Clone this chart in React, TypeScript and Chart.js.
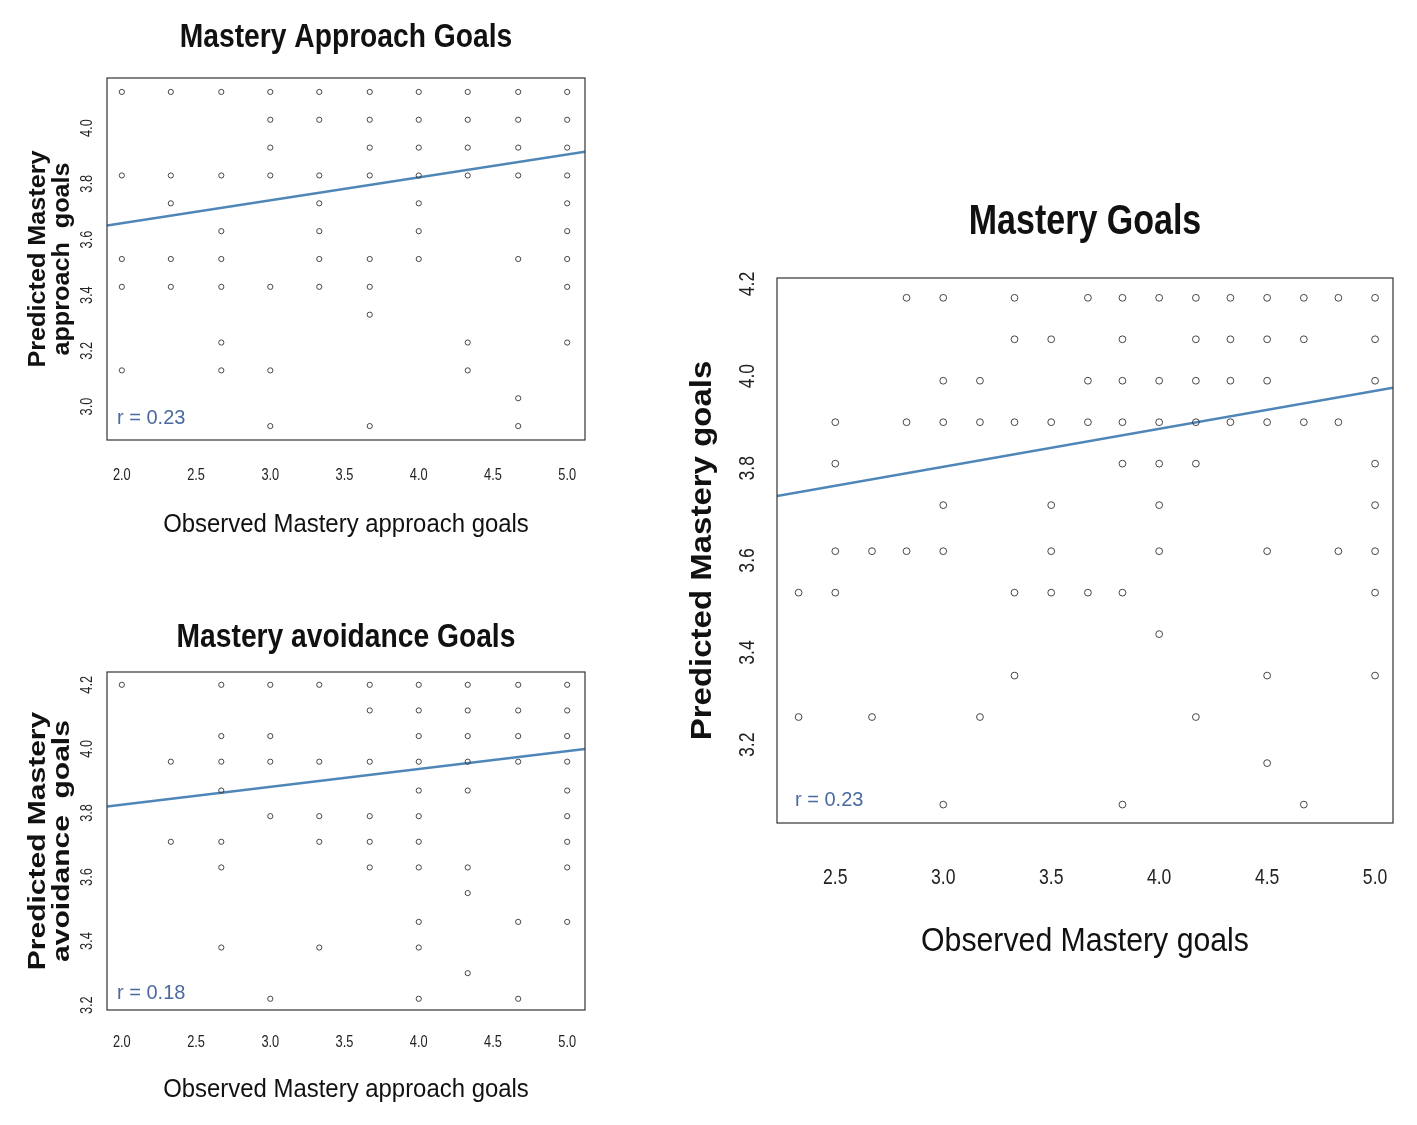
import React, { useEffect, useRef } from "react";
import { Chart, registerables } from "chart.js";
Chart.register(...registerables);

const W = 1417, H = 1125;
const FONT = "'Liberation Sans Narrow', 'Liberation Sans', Arial, sans-serif";
const LINE_COLOR = "#4f86b8";
const R_COLOR = "#4a6aa0";

// Chart 1: Mastery Approach Goals
const c1Cols = [2.0, 2.33, 2.67, 3.0, 3.33, 3.67, 4.0, 4.33, 4.67, 5.0];
const c1Vals = [
  [4.13, 3.83, 3.53, 3.43, 3.13],
  [4.13, 3.83, 3.73, 3.53, 3.43],
  [4.13, 3.83, 3.63, 3.53, 3.43, 3.23, 3.13],
  [4.13, 4.03, 3.93, 3.83, 3.43, 3.13, 2.93],
  [4.13, 4.03, 3.83, 3.73, 3.63, 3.53, 3.43],
  [4.13, 4.03, 3.93, 3.83, 3.53, 3.43, 3.33, 2.93],
  [4.13, 4.03, 3.93, 3.83, 3.73, 3.63, 3.53],
  [4.13, 4.03, 3.93, 3.83, 3.23, 3.13],
  [4.13, 4.03, 3.93, 3.83, 3.53, 3.03, 2.93],
  [4.13, 4.03, 3.93, 3.83, 3.73, 3.63, 3.53, 3.43, 3.23],
];
const c1Line = [{ x: 1.9, y: 3.65 }, { x: 5.12, y: 3.915 }];
const c1XTicks = [2.0, 2.5, 3.0, 3.5, 4.0, 4.5, 5.0];
const c1YTicks = [3.0, 3.2, 3.4, 3.6, 3.8, 4.0];

// Chart 2: Mastery avoidance Goals
const c2Cols = [2.0, 2.33, 2.67, 3.0, 3.33, 3.67, 4.0, 4.33, 4.67, 5.0];
const c2Vals = [
  [4.2],
  [3.96, 3.71],
  [4.2, 4.04, 3.96, 3.87, 3.71, 3.63, 3.38],
  [4.2, 4.04, 3.96, 3.79, 3.22],
  [4.2, 3.96, 3.79, 3.71, 3.38],
  [4.2, 4.12, 3.96, 3.79, 3.71, 3.63],
  [4.2, 4.12, 4.04, 3.96, 3.87, 3.79, 3.71, 3.63, 3.46, 3.38, 3.22],
  [4.2, 4.12, 4.04, 3.96, 3.87, 3.63, 3.55, 3.30],
  [4.2, 4.12, 4.04, 3.96, 3.46, 3.22],
  [4.2, 4.12, 4.04, 3.96, 3.87, 3.79, 3.71, 3.63, 3.46],
];
const c2Line = [{ x: 1.9, y: 3.82 }, { x: 5.12, y: 4.0 }];
const c2XTicks = [2.0, 2.5, 3.0, 3.5, 4.0, 4.5, 5.0];
const c2YTicks = [3.2, 3.4, 3.6, 3.8, 4.0, 4.2];

// Chart 3: Mastery Goals
const c3Cols = [2.33, 2.5, 2.67, 2.83, 3.0, 3.17, 3.33, 3.5, 3.67, 3.83, 4.0, 4.17, 4.33, 4.5, 4.67, 4.83, 5.0];
const c3Vals = [
  [3.53, 3.26],
  [3.9, 3.81, 3.62, 3.53],
  [3.62, 3.26],
  [4.17, 3.9, 3.62],
  [4.17, 3.99, 3.9, 3.72, 3.62, 3.07],
  [3.99, 3.9, 3.26],
  [4.17, 4.08, 3.9, 3.53, 3.35],
  [4.08, 3.9, 3.72, 3.62, 3.53],
  [4.17, 3.99, 3.9, 3.53],
  [4.17, 4.08, 3.99, 3.9, 3.81, 3.53, 3.07],
  [4.17, 3.99, 3.9, 3.81, 3.72, 3.62, 3.44],
  [4.17, 4.08, 3.99, 3.9, 3.81, 3.26],
  [4.17, 4.08, 3.99, 3.9],
  [4.17, 4.08, 3.99, 3.9, 3.62, 3.35, 3.16],
  [4.17, 4.08, 3.9, 3.07],
  [4.17, 3.9, 3.62],
  [4.17, 4.08, 3.99, 3.81, 3.72, 3.62, 3.53, 3.35],
];
const c3Line = [{ x: 2.23, y: 3.74 }, { x: 5.083, y: 3.975 }];
const c3XTicks = [2.5, 3.0, 3.5, 4.0, 4.5, 5.0];
const c3YTicks = [3.2, 3.4, 3.6, 3.8, 4.0, 4.2];

type Cfg = {
  area: [number, number, number, number];
  xr: [number, number]; yr: [number, number];
  cols: number[]; vals: number[][]; line: { x: number; y: number }[];
  xt: number[]; yt: number[];
  title: string; titleSize: number; titleY: number; titleSx: number;
  xlab: string; xlabSize: number; xlabY: number; xlabSx: number;
  ylab: string[]; ylabX: number[]; ylabSize: number; ylabSx: number;
  r: string; rX: number; rY: number; rSize: number;
  tickSize: number; xTickY: number; yTickX: number; tickSx: number;
  pr: number;
};

const cfgs: Cfg[] = [
  { area: [107, 78, 585, 440], xr: [1.9, 5.12], yr: [2.88, 4.18], cols: c1Cols, vals: c1Vals, line: c1Line,
    xt: c1XTicks, yt: c1YTicks, title: "Mastery Approach Goals", titleSize: 34, titleY: 38, titleSx: 0.83,
    xlab: "Observed Mastery approach goals", xlabSize: 26, xlabY: 525, xlabSx: 0.92,
    ylab: ["Predicted Mastery", "approach  goals"], ylabX: [38, 62], ylabSize: 24, ylabSx: 1.05,
    r: "r = 0.23", rX: 117, rY: 418, rSize: 20, tickSize: 16, xTickY: 476, yTickX: 88, tickSx: 0.8, pr: 2.6 },
  { area: [107, 672, 585, 1010], xr: [1.9, 5.12], yr: [3.185, 4.24], cols: c2Cols, vals: c2Vals, line: c2Line,
    xt: c2XTicks, yt: c2YTicks, title: "Mastery avoidance Goals", titleSize: 34, titleY: 638, titleSx: 0.83,
    xlab: "Observed Mastery approach goals", xlabSize: 26, xlabY: 1090, xlabSx: 0.92,
    ylab: ["Predicted Mastery", "avoidance  goals"], ylabX: [38, 62], ylabSize: 24, ylabSx: 1.25,
    r: "r = 0.18", rX: 117, rY: 993, rSize: 20, tickSize: 16, xTickY: 1043, yTickX: 88, tickSx: 0.8, pr: 2.6 },
  { area: [777, 278, 1393, 823], xr: [2.23, 5.083], yr: [3.03, 4.213], cols: c3Cols, vals: c3Vals, line: c3Line,
    xt: c3XTicks, yt: c3YTicks, title: "Mastery Goals", titleSize: 42, titleY: 222, titleSx: 0.81,
    xlab: "Observed Mastery goals", xlabSize: 34, xlabY: 942, xlabSx: 0.89,
    ylab: ["Predicted Mastery goals"], ylabX: [703], ylabSize: 30, ylabSx: 1.1,
    r: "r = 0.23", rX: 795, rY: 800, rSize: 20, tickSize: 22, xTickY: 878, yTickX: 748, tickSx: 0.8, pr: 3.4 },
];

function txt(ctx: CanvasRenderingContext2D, s: string, x: number, y: number, sx: number, rot = false) {
  ctx.save();
  ctx.translate(x, y);
  if (rot) ctx.rotate(-Math.PI / 2);
  ctx.scale(sx, 1);
  ctx.fillText(s, 0, 0);
  ctx.restore();
}

function ChartCanvas({ c }: { c: Cfg }) {
  const ref = useRef<HTMLCanvasElement>(null);
  useEffect(() => {
    const pts: { x: number; y: number }[] = [];
    c.cols.forEach((x, i) => c.vals[i].forEach((y) => pts.push({ x, y })));
    const [L, T, R, B] = c.area;
    const deco = {
      id: "deco",
      afterDraw(chart: any) {
        const ctx = chart.ctx as CanvasRenderingContext2D;
        const xs = chart.scales.x, ys = chart.scales.y;
        ctx.save();
        ctx.strokeStyle = "#333"; ctx.lineWidth = 1.2;
        ctx.strokeRect(L, T, R - L, B - T);
        ctx.fillStyle = "#222";
        ctx.font = `${c.tickSize}px ${FONT}`;
        ctx.textAlign = "center"; ctx.textBaseline = "middle";
        c.xt.forEach((v) => txt(ctx, v.toFixed(1), xs.getPixelForValue(v), c.xTickY, c.tickSx));
        c.yt.forEach((v) => txt(ctx, v.toFixed(1), c.yTickX, ys.getPixelForValue(v), c.tickSx, true));
        ctx.fillStyle = "#111";
        ctx.font = `bold ${c.titleSize}px ${FONT}`;
        txt(ctx, c.title, (L + R) / 2, c.titleY, c.titleSx);
        ctx.font = `${c.xlabSize}px ${FONT}`;
        txt(ctx, c.xlab, (L + R) / 2, c.xlabY, c.xlabSx);
        ctx.font = `bold ${c.ylabSize}px 'Liberation Sans', Arial, sans-serif`;
        c.ylab.forEach((s, i) => txt(ctx, s, c.ylabX[i], (T + B) / 2, c.ylabSx, true));
        ctx.fillStyle = R_COLOR; ctx.textAlign = "left";
        ctx.font = `${c.rSize}px 'Liberation Sans', Arial, sans-serif`;
        ctx.fillText(c.r, c.rX, c.rY);
        ctx.restore();
      },
    };
    const chart = new Chart(ref.current!, {
      type: "scatter",
      data: {
        datasets: [
          { data: pts, pointStyle: "circle", pointRadius: c.pr, borderColor: "#333", borderWidth: 0.9,
            backgroundColor: "rgba(0,0,0,0)", showLine: false } as any,
          { type: "line", data: c.line, borderColor: LINE_COLOR, borderWidth: 2.5, pointRadius: 0, fill: false } as any,
        ],
      },
      options: {
        animation: false, responsive: false, devicePixelRatio: 1,
        layout: { padding: { left: L, top: T, right: W - R, bottom: H - B } },
        plugins: { legend: { display: false }, tooltip: { enabled: false } },
        scales: {
          x: { type: "linear", min: c.xr[0], max: c.xr[1], display: false },
          y: { type: "linear", min: c.yr[0], max: c.yr[1], display: false },
        },
      },
      plugins: [deco],
    });
    return () => chart.destroy();
  }, []);
  return <canvas ref={ref} width={W} height={H} style={{ position: "absolute", left: 0, top: 0, width: W, height: H }} />;
}

export default function App() {
  useEffect(() => { document.body.style.margin = "0"; document.body.style.background = "#fff"; }, []);
  return (
    <div style={{ position: "relative", width: W, height: H, background: "#fff", overflow: "hidden" }}>
      {cfgs.map((c, i) => <ChartCanvas key={i} c={c} />)}
    </div>
  );
}
